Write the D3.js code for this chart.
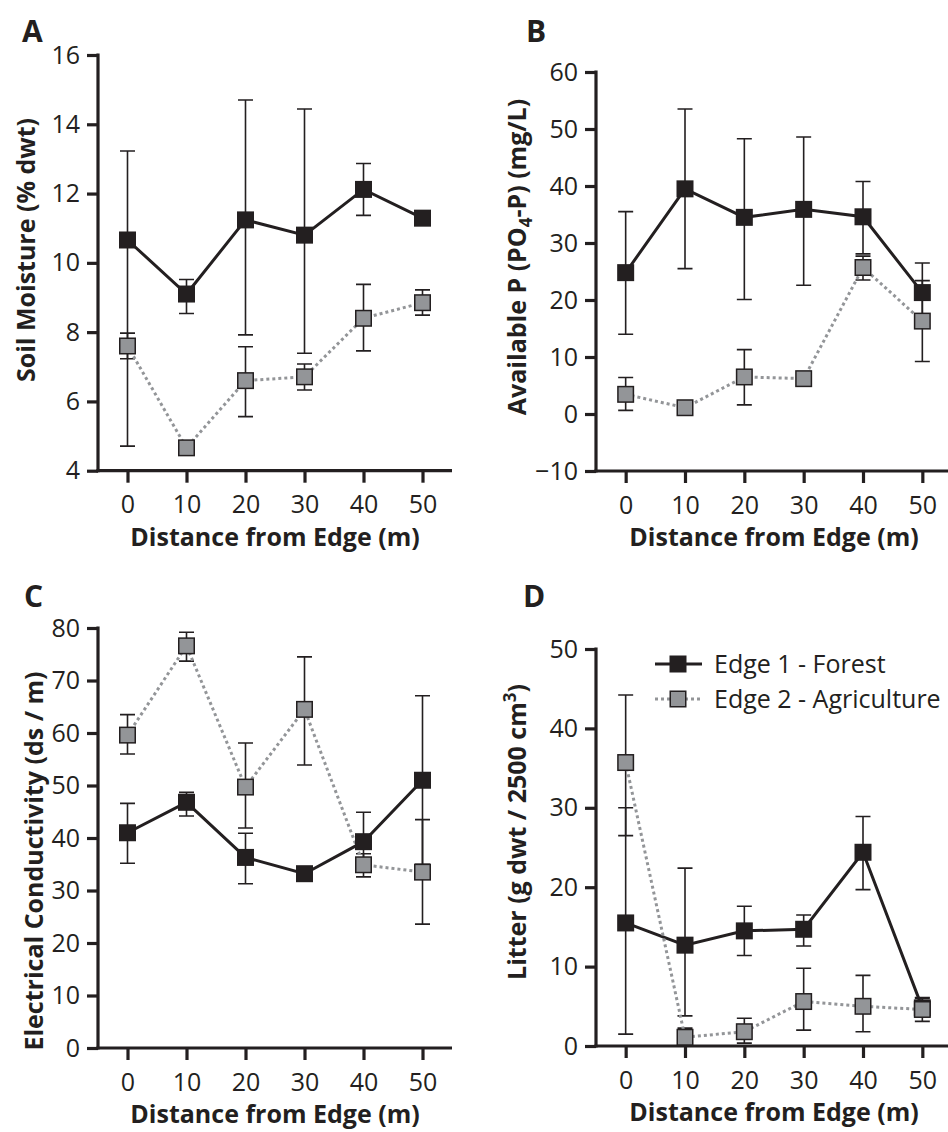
<!DOCTYPE html>
<html>
<head>
<meta charset="utf-8">
<script src="https://cdn.jsdelivr.net/npm/d3@7"></script>
<style>
  body { margin: 0; background: #fff; }
  svg { display: block; font-family: "Open Sans", sans-serif; }
  .tick text { font-size: 25px; fill: #231f20; font-family: "Open Sans", sans-serif; }
  .title { font-size: 25px; font-weight: 700; fill: #231f20; }
  .letter { font-size: 30px; font-weight: 700; fill: #231f20; }
  .legend text { font-size: 25px; fill: #231f20; }
</style>
</head>
<body>
<svg id="chart"></svg>
<script>
// Data
const distances = [0, 10, 20, 30, 40, 50];

// A - soil moisture
const moistureForest = [10.66, 9.1, 11.24, 10.8, 12.12, 11.29];
const moistureForestLo = [4.71, 8.54, 7.92, 7.39, 11.37, 11.1];
const moistureForestHi = [13.23, 9.52, 14.7, 14.44, 12.87, 11.5];
const moistureAgri = [7.6, 4.66, 6.6, 6.71, 8.4, 8.85];
const moistureAgriLo = [7.23, 4.5, 5.56, 6.33, 7.46, 8.49];
const moistureAgriHi = [7.97, 4.8, 7.58, 7.08, 9.38, 9.22];
const moistureTicks = [4, 6, 8, 10, 12, 14, 16];

// B - available P
const phosForest = [24.8, 39.5, 34.5, 35.9, 34.6, 21.3];
const phosForestLo = [14.0, 25.5, 20.1, 22.6, 28.1, 16.1];
const phosForestHi = [35.5, 53.5, 48.3, 48.6, 40.8, 26.5];
const phosAgri = [3.45, 1.1, 6.5, 6.2, 25.7, 16.3];
const phosAgriLo = [0.64, 0.6, 1.6, 5.6, 23.5, 9.2];
const phosAgriHi = [6.4, 1.5, 11.3, 6.8, 27.7, 23.4];
const phosTicks = [-10, 0, 10, 20, 30, 40, 50, 60];

// C - electrical conductivity
const ecForest = [41.0, 46.8, 36.3, 33.2, 39.3, 51.0];
const ecForestLo = [35.2, 44.2, 31.3, 32.5, 33.7, 35.0];
const ecForestHi = [46.6, 48.7, 40.9, 34.0, 44.9, 67.1];
const ecAgri = [59.6, 76.6, 49.7, 64.5, 34.9, 33.5];
const ecAgriLo = [56.0, 73.7, 41.9, 53.9, 32.6, 23.6];
const ecAgriHi = [63.5, 79.2, 58.1, 74.5, 37.0, 43.5];
const ecTicks = [0, 10, 20, 30, 40, 50, 60, 70, 80];

// D - litter
const litterForest = [15.5, 12.7, 14.5, 14.7, 24.4, 4.8];
const litterForestLo = [1.5, 3.8, 11.4, 12.6, 19.7, 4.0];
const litterForestHi = [30.0, 22.4, 17.6, 16.5, 28.9, 6.0];
const litterAgri = [35.7, 1.1, 1.8, 5.6, 5.0, 4.6];
const litterAgriLo = [26.5, 0.5, 0.36, 2.0, 1.8, 3.1];
const litterAgriHi = [44.2, 2.25, 3.5, 9.8, 8.9, 6.1];
const litterTicks = [0, 10, 20, 30, 40, 50];

const seriesNames = ["Edge 1 - Forest", "Edge 2 - Agriculture"];

// Chart Dimensions
const width = 948;
const height = 1132;
const ink = "#231f20";
const gray = "#939598";

const svg = d3.select("#chart").attr("width", width).attr("height", height);

// Build a series list from the arrays
function makeSeries(vals, lo, hi) {
  return distances.map((d, i) => ({ x: d, y: vals[i], lo: lo[i], hi: hi[i] }));
}

const panels = [
  {
    letter: "A", lx: 22, ly: 42,
    left: 98, right: 452, top: 55, bottom: 470.7,
    domain: [4, 16], ticks: moistureTicks,
    title: "Soil Moisture (% dwt)", tx: 35, ty: 250,
    forest: makeSeries(moistureForest, moistureForestLo, moistureForestHi),
    agri: makeSeries(moistureAgri, moistureAgriLo, moistureAgriHi),
  },
  {
    letter: "B", lx: 526, ly: 42,
    left: 596, right: 952, top: 72, bottom: 471,
    domain: [-10, 60], ticks: phosTicks,
    title: "B", tx: 526, ty: 257,
    forest: makeSeries(phosForest, phosForestLo, phosForestHi),
    agri: makeSeries(phosAgri, phosAgriLo, phosAgriHi),
  },
  {
    letter: "C", lx: 24, ly: 607,
    left: 98, right: 452, top: 628, bottom: 1048,
    domain: [0, 80], ticks: ecTicks,
    title: "Electrical Conductivity (ds / m)", tx: 43, ty: 861,
    forest: makeSeries(ecForest, ecForestLo, ecForestHi),
    agri: makeSeries(ecAgri, ecAgriLo, ecAgriHi),
  },
  {
    letter: "D", lx: 523, ly: 607,
    left: 596, right: 952, top: 649, bottom: 1046,
    domain: [0, 50], ticks: litterTicks,
    title: "D", tx: 526, ty: 832,
    forest: makeSeries(litterForest, litterForestLo, litterForestHi),
    agri: makeSeries(litterAgri, litterAgriLo, litterAgriHi),
    legend: true,
  },
];

panels.forEach(drawPanel);

function drawPanel(p) {
  const g = svg.append("g");
  const x = d3.scaleLinear().domain([-5, 55]).range([p.left, p.right]);
  const y = d3.scaleLinear().domain(p.domain).range([p.bottom, p.top]);

  // Axes
  const yAxis = g.append("g")
    .attr("transform", `translate(${p.left},0)`)
    .call(d3.axisLeft(y).tickValues(p.ticks).tickSize(11).tickSizeOuter(0).tickPadding(7));
  const xAxis = g.append("g")
    .attr("transform", `translate(0,${p.bottom})`)
    .call(d3.axisBottom(x).tickValues(distances).tickSize(12).tickSizeOuter(0).tickPadding(13));
  [yAxis, xAxis].forEach((a) => {
    a.select(".domain").attr("stroke", ink).attr("stroke-width", 3.2);
    a.selectAll(".tick line").attr("stroke", ink).attr("stroke-width", 3.2);
    a.selectAll(".tick text").attr("fill", ink);
  });
  yAxis.select(".domain").attr("d", `M0,${p.bottom + 1.6}V${p.top - 1.6}`);
  xAxis.select(".domain").attr("d", `M${p.left - 1.6},0H${p.right}`);

  // Axis titles
  g.append("text")
    .attr("class", "title")
    .attr("x", (x(0) + x(50)) / 2)
    .attr("y", p.bottom + 75)
    .attr("text-anchor", "middle")
    .text("Distance from Edge (m)");

  const yt = g.append("text")
    .attr("class", "title")
    .attr("text-anchor", "middle")
    .attr("transform", `translate(${p.tx},${p.ty}) rotate(-90)`);
  if (p.letter === "B") {
    yt.append("tspan").text("Available P (PO");
    yt.append("tspan").attr("font-size", "17px").attr("dy", 6).text("4");
    yt.append("tspan").attr("dy", -6).text("-P) (mg/L)");
  } else if (p.letter === "D") {
    yt.append("tspan").text("Litter (g dwt / 2500 cm");
    yt.append("tspan").attr("font-size", "17px").attr("dy", -10).text("3");
    yt.append("tspan").attr("dy", 10).text(")");
  } else {
    yt.text(p.title);
  }

  // Panel letter
  g.append("text").attr("class", "letter").attr("x", p.lx).attr("y", p.ly).text(p.letter);

  // Error bars
  const both = [...p.forest, ...p.agri];
  const eb = g.append("g").attr("stroke", ink).attr("stroke-width", 1.6).attr("fill", "none");
  eb.selectAll("path")
    .data(both)
    .enter()
    .append("path")
    .attr("d", (d) => {
      const cx = x(d.x), t = y(d.hi), b = y(d.lo);
      return `M${cx},${t}V${b}M${cx - 7.5},${t}H${cx + 7.5}M${cx - 7.5},${b}H${cx + 7.5}`;
    });

  // Lines
  const line = d3.line().x((d) => x(d.x)).y((d) => y(d.y));
  g.append("path").datum(p.forest).attr("d", line)
    .attr("fill", "none").attr("stroke", ink).attr("stroke-width", 3);
  g.append("path").datum(p.agri).attr("d", line)
    .attr("fill", "none").attr("stroke", gray).attr("stroke-width", 3)
    .attr("stroke-dasharray", "3 3");

  // Markers
  const s = 17;
  g.selectAll(".mf").data(p.forest).enter().append("rect")
    .attr("x", (d) => x(d.x) - s / 2).attr("y", (d) => y(d.y) - s / 2)
    .attr("width", s).attr("height", s).attr("fill", ink);
  g.selectAll(".ma").data(p.agri).enter().append("rect")
    .attr("x", (d) => x(d.x) - (s - 1.5) / 2).attr("y", (d) => y(d.y) - (s - 1.5) / 2)
    .attr("width", s - 1.5).attr("height", s - 1.5)
    .attr("fill", gray).attr("stroke", ink).attr("stroke-width", 1.5);

  // Legend
  if (p.legend) {
    const lg = g.append("g").attr("class", "legend");
    const rows = [664, 699];
    seriesNames.forEach((name, i) => {
      const row = lg.append("g").attr("transform", `translate(0,${rows[i]})`);
      row.append("line").attr("x1", 655).attr("x2", 702).attr("y1", 0).attr("y2", 0)
        .attr("stroke", i === 0 ? ink : gray).attr("stroke-width", 3)
        .attr("stroke-dasharray", i === 0 ? null : "3 3");
      const ms = i === 0 ? 17 : 15.5;
      row.append("rect")
        .attr("x", 678 - ms / 2).attr("y", -ms / 2).attr("width", ms).attr("height", ms)
        .attr("fill", i === 0 ? ink : gray)
        .attr("stroke", i === 0 ? "none" : ink).attr("stroke-width", 1.5);
      row.append("text").attr("x", 714).attr("y", 0).attr("dy", "0.35em").text(name);
    });
  }
}
</script>
</body>
</html>
